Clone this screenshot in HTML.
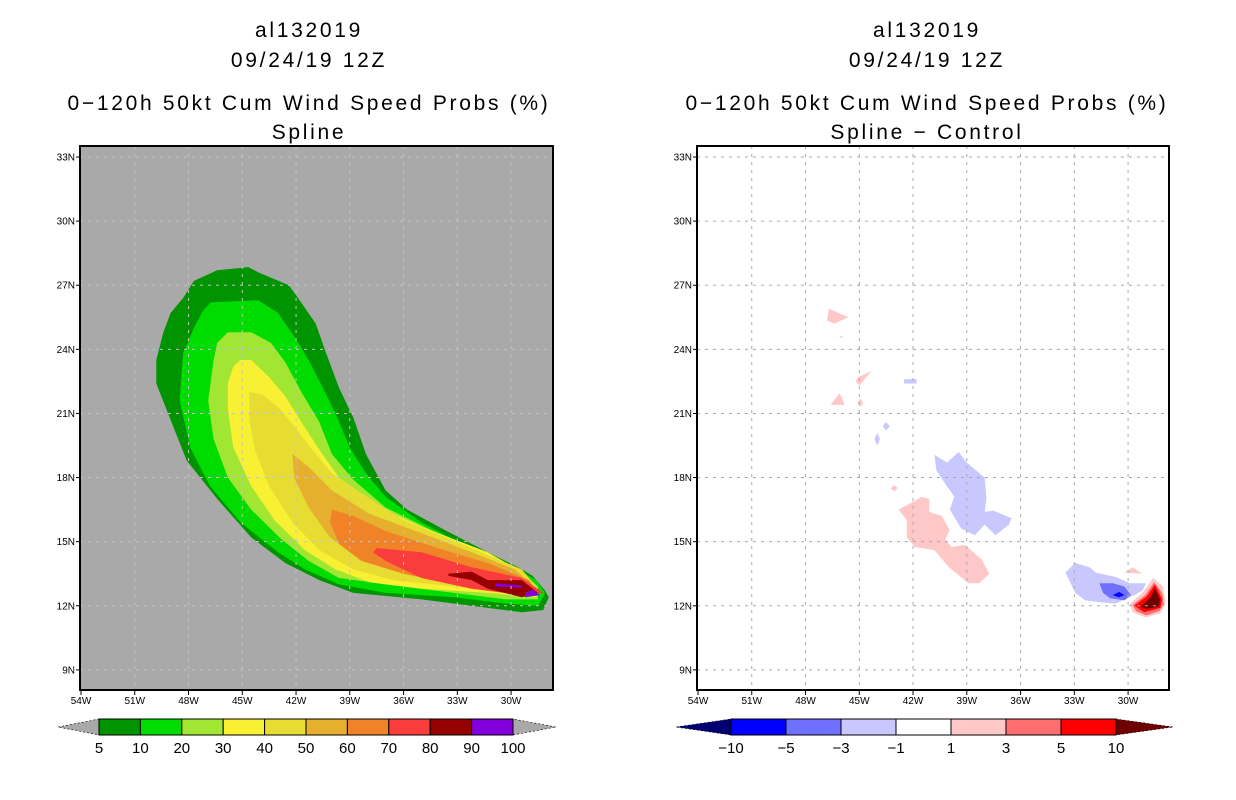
<!DOCTYPE html>
<html><head><meta charset="utf-8">
<style>
html,body{margin:0;padding:0;background:#fff;}
svg{display:block;font-family:"Liberation Sans",sans-serif;}
.t{font-size:21px;text-anchor:middle;fill:#000;letter-spacing:2.7px;}
.tk{font-size:10px;fill:#000;}
.cb{font-size:15px;text-anchor:middle;fill:#000;}
</style></head>
<body>
<svg id="fig" width="1236" height="800" viewBox="0 0 1236 800">
<rect width="1236" height="800" fill="#fff"/>
<g>
<text class="t" x="309" y="37">al132019</text>
<text class="t" x="309" y="67">09/24/19 12Z</text>
<text class="t" x="309" y="110">0−120h 50kt Cum Wind Speed Probs (%)</text>
<text class="t" x="309" y="139">Spline</text>
</g>
<g>
<text class="t" x="927" y="37">al132019</text>
<text class="t" x="927" y="67">09/24/19 12Z</text>
<text class="t" x="927" y="110">0−120h 50kt Cum Wind Speed Probs (%)</text>
<text class="t" x="927" y="139">Spline − Control</text>
</g>
<g id="left"></g>
<g id="right"></g>
<g id="lcb"></g>
<g id="rcb"></g>
</svg>
<script>
// axis ticks
const lonTicks=[54,51,48,45,42,39,36,33,30];
const latTicks=[33,30,27,24,21,18,15,12,9];
// probability contour levels and colors (left)
const probLevels=[5,10,20,30,40,50,60,70,80,90,100];
const probColors=["#009400","#00dc00","#a0e632","#f8f032","#e6dc32","#e6af2d","#f08228","#fa3c3c","#960000","#8200dc"];
// left polygons [lonW, latN]
const p5=[[44.66,27.85],[44.1,27.6],[42.4,27.0],[41.8,26.3],[40.9,25.2],[40.4,24.0],[39.6,22.2],[38.8,20.8],[38.1,19.1],[37.0,17.4],[35.8,16.5],[33.6,15.5],[31.3,14.5],[29.6,13.8],[28.8,13.4],[28.1,12.7],[27.9,12.4],[28.2,11.8],[29.4,11.7],[31.3,11.9],[35.0,12.3],[38.8,12.6],[40.7,13.2],[42.6,14.0],[44.5,15.2],[46.4,17.0],[48.1,18.8],[49.0,20.7],[49.8,22.4],[49.8,23.5],[49.4,24.8],[49.0,25.7],[48.3,26.4],[47.7,27.2],[46.4,27.7]];
const p10=[[46.75,26.2],[44.1,26.3],[43.0,25.7],[42.1,24.6],[41.3,23.5],[40.5,22.2],[39.8,21.0],[39.0,19.4],[38.1,18.2],[37.0,17.1],[35.0,15.9],[33.2,15.1],[30.7,14.1],[29.4,13.6],[28.6,13.2],[28.1,12.6],[28.5,12.0],[30.3,12.1],[33.2,12.4],[37.0,12.6],[39.6,13.0],[41.5,13.7],[43.0,14.5],[45.1,15.9],[46.8,17.6],[47.9,19.4],[48.5,21.6],[48.3,23.8],[47.7,25.0],[47.2,25.8]];
const p20=[[45.8,24.8],[44.5,24.8],[43.4,24.3],[42.6,23.4],[41.7,22.0],[40.7,20.6],[40.0,19.1],[38.8,17.9],[37.0,16.6],[34.1,15.4],[31.3,14.3],[29.4,13.6],[28.5,12.9],[28.5,12.3],[30.3,12.3],[33.2,12.6],[37.0,13.0],[39.6,13.3],[41.3,14.1],[42.8,15.1],[44.5,16.5],[45.8,18.0],[46.6,19.8],[46.9,21.6],[46.6,23.5],[46.4,24.3]];
const p30=[[45.1,23.5],[44.5,23.5],[43.5,22.7],[42.6,21.8],[41.7,20.6],[40.7,19.3],[39.6,18.0],[37.9,16.8],[35.0,15.7],[31.3,14.5],[29.2,13.5],[28.5,12.7],[28.6,12.4],[31.3,12.6],[35.0,12.8],[37.9,13.1],[39.8,13.7],[41.5,14.6],[43.2,16.0],[44.5,17.6],[45.5,19.4],[45.8,21.2],[45.8,22.4],[45.5,23.2]];
const p40=[[44.6,22.0],[43.9,21.9],[43.0,21.3],[42.1,20.4],[41.1,19.3],[40.0,18.2],[38.4,17.3],[36.0,16.0],[32.2,14.7],[29.4,13.7],[28.5,12.8],[29.4,12.6],[33.2,12.9],[36.6,13.2],[38.8,13.7],[40.7,14.6],[42.2,15.9],[43.5,17.6],[44.3,19.3],[44.6,20.7]];
const p50=[[42.2,19.1],[41.3,18.5],[40.0,17.4],[37.9,16.3],[35.0,15.4],[32.2,14.5],[29.8,13.7],[28.5,12.7],[29.8,12.6],[33.2,13.1],[36.0,13.5],[38.4,14.1],[40.1,15.2],[41.3,16.6],[42.1,18.0]];
const p60=[[40.0,16.5],[38.8,16.2],[37.0,15.5],[34.1,14.7],[31.3,14.0],[29.0,13.2],[28.5,12.6],[30.3,12.6],[33.2,13.0],[36.0,13.5],[38.3,14.1],[39.6,14.9],[40.1,15.9]];
const p70=[[37.5,14.7],[35.0,14.5],[32.2,13.8],[29.4,13.3],[28.2,12.6],[29.4,12.5],[32.2,12.8],[35.0,13.3],[37.0,14.1],[37.7,14.5]];
const p80=[[33.5,13.5],[32.2,13.6],[31.3,13.2],[29.4,13.2],[28.5,12.6],[29.4,12.4],[31.3,12.8],[32.2,13.2],[33.5,13.4]];
const p90a=[[29.2,12.6],[28.8,12.75],[28.4,12.5],[29.2,12.4]];
const p90b=[[30.9,13.05],[29.4,12.95],[29.4,12.85],[30.9,12.9]];
const leftPolys=[[p5,0],[p10,1],[p20,2],[p30,3],[p40,4],[p50,5],[p60,6],[p70,7],[p80,8],[p90a,9],[p90b,9]];
// difference levels and colors (right)
const diffLabels=["−10","−5","−3","−1","1","3","5","10"];
const diffColors=["#000070","#0000ff","#7070ff","#c8c8ff","#ffffff","#ffc8c8","#ff6e6e","#ff0000","#6e0000"];
const n1=[[46.7,25.9],[45.6,25.5],[46.4,25.2],[46.8,25.35]];
const n2=[[46.1,21.95],[45.8,21.4],[46.6,21.4]];
const n3=[[45.05,22.7],[44.3,23.0],[45.0,22.3],[45.2,22.5]];
const n4=[[44.95,21.7],[44.8,21.5],[44.95,21.3],[45.1,21.5]];
const n5=[[43.05,17.65],[42.85,17.5],[43.05,17.35],[43.25,17.5]];
const n6=[[46.0,24.65],[45.9,24.55],[46.1,24.55]];
const b1=[[42.5,22.6],[41.8,22.6],[41.8,22.4],[42.5,22.4]];
const b2=[[43.5,20.6],[43.3,20.4],[43.5,20.2],[43.7,20.4]];
const b3=[[44.0,20.1],[43.85,19.8],[44.0,19.5],[44.15,19.8]];
const pBig=[[42.8,16.5],[41.5,17.1],[41.1,17.0],[41.1,16.4],[40.4,16.2],[39.95,15.55],[40.2,15.1],[39.85,14.75],[39.1,14.85],[38.15,14.15],[37.75,13.5],[38.3,13.05],[38.9,13.05],[40.0,13.8],[40.8,14.6],[41.9,14.75],[42.35,15.2],[42.35,16.0]];
const bBig=[[40.8,19.06],[40.1,18.7],[39.45,19.2],[39.0,18.7],[38.0,18.0],[37.9,17.0],[38.0,16.4],[37.5,16.45],[36.5,16.1],[36.65,15.8],[37.4,15.3],[38.0,15.8],[38.55,15.3],[39.3,15.6],[39.95,16.5],[39.7,17.1],[40.2,17.7],[40.7,18.35]];
const bE1=[[33.5,13.55],[32.95,14.0],[32.15,13.8],[31.8,13.55],[30.7,13.35],[29.9,13.05],[29.0,13.05],[29.2,12.7],[29.9,12.4],[30.7,12.1],[31.4,12.15],[32.4,12.25],[32.95,12.6],[33.2,13.05]];
const bE2=[[31.6,13.05],[30.85,13.05],[30.2,12.9],[29.85,12.5],[30.2,12.25],[31.0,12.35],[31.4,12.6]];
const bE3=[[30.85,12.5],[30.5,12.65],[30.2,12.5],[30.5,12.4]];
const rS=[[30.2,13.55],[29.75,13.8],[29.2,13.5]];
const r1=[[29.9,12.1],[29.2,12.6],[28.6,13.3],[28.05,12.9],[27.9,12.1],[28.2,11.65],[29.0,11.45],[29.75,11.7]];
const r3=[[29.75,12.05],[29.05,12.5],[28.55,13.1],[28.1,12.6],[28.0,12.1],[28.25,11.75],[29.0,11.55],[29.55,11.75]];
const r5=[[29.65,12.0],[28.95,12.45],[28.5,13.0],[28.1,12.3],[28.2,11.9],[29.1,11.7]];
const r10=[[29.3,11.95],[28.8,12.35],[28.5,12.8],[28.2,12.25],[28.3,11.95],[29.0,11.85]];
const rightPolys=[[n1,5],[n2,5],[n3,5],[n4,5],[n5,5],[n6,5],[b1,3],[b2,3],[b3,3],[pBig,5],[bBig,3],[bE1,3],[bE2,2],[bE3,1],[rS,5],[r1,5],[r3,6],[r5,7],[r10,8]];

const NS="http://www.w3.org/2000/svg";
function mk(tag,attrs,parent){const e=document.createElementNS(NS,tag);for(const k in attrs)e.setAttribute(k,attrs[k]);parent.appendChild(e);return e;}
const top_=146,bot=690;
function yScale(lat){return 157+(33-lat)*21.37;}
function panel(g,x0,x1,bg,gridColor,polys,colors,prefix){
  const xScale=lon=>x0+1+(54-lon)*17.92;
  const clipId=prefix+"clip";
  const cp=mk("clipPath",{id:clipId},g);
  mk("rect",{x:x0,y:top_,width:x1-x0,height:bot-top_},cp);
  const bgr=mk("rect",{x:x0,y:top_,width:x1-x0,height:bot-top_,fill:bg},g);
  
  
  const pg=mk("g",{"clip-path":"url(#"+clipId+")"},g);
  polys.forEach(([pts,ci],i)=>{
    const d=pts.map(p=>xScale(p[0]).toFixed(1)+","+yScale(p[1]).toFixed(1)).join(" ");
    const el=mk("polygon",{points:d,fill:colors[ci]},pg);
    
    
  });
  lonTicks.forEach(l=>{
    const x=xScale(l);
    if(l<54){const gl=mk("line",{x1:x,x2:x,y1:top_,y2:bot,stroke:gridColor,"stroke-width":1,"stroke-dasharray":"3,5"},pg);
      
      }
    mk("line",{x1:x,x2:x,y1:bot,y2:bot+5,stroke:"#000"},g);
    const t=mk("text",{x:x,y:bot+14,class:"tk","text-anchor":"middle"},g);t.textContent=l+"W";
    
    
  });
  latTicks.forEach(l=>{
    const y=yScale(l);
    const gl=mk("line",{x1:x0,x2:x1,y1:y,y2:y,stroke:gridColor,"stroke-width":1,"stroke-dasharray":"3,5"},pg);
    
    
    mk("line",{x1:x0-4,x2:x0,y1:y,y2:y,stroke:"#000"},g);
    const t=mk("text",{x:x0-5,y:y+3.5,class:"tk","text-anchor":"end"},g);t.textContent=l+"N";
    
    
  });
  const fr=mk("rect",{x:x0,y:top_,width:x1-x0,height:bot-top_,fill:"none",stroke:"#000","stroke-width":2},g);
  
  
}
panel(document.getElementById("left"),80,553,"#a9a9a9","#c4c4c4",leftPolys,probColors,"left");
panel(document.getElementById("right"),697,1169,"#ffffff","#a8a8a8",rightPolys,diffColors,"right");

function colorbar(g,xL,xR,b0,b1,cols,labels,leftTri,rightTri,prefix){
  const y0=719,y1=735,ym=727,n=cols.length,w=(b1-b0)/n;
  const lt=mk("polygon",{points:`${xL},${ym} ${b0},${y0} ${b0},${y1}`,fill:leftTri,stroke:"#000","stroke-width":0.6,"stroke-dasharray":"2,2"},g);
  
  
  const rt=mk("polygon",{points:`${xR},${ym} ${b1},${y0} ${b1},${y1}`,fill:rightTri,stroke:"#000","stroke-width":0.6,"stroke-dasharray":"2,2"},g);
  
  
  cols.forEach((c,i)=>{
    const r=mk("rect",{x:b0+i*w,y:y0,width:w,height:y1-y0,fill:c,stroke:"#000","stroke-width":1},g);
    
    
  });
  labels.forEach((l,i)=>{
    const t=mk("text",{x:b0+i*w,y:753,class:"cb"},g);t.textContent=l;
    
    
  });
}
colorbar(document.getElementById("lcb"),58,556,99,513,probColors,probLevels.map(String),"#a9a9a9","#a9a9a9","left-colorbar");
colorbar(document.getElementById("rcb"),676,1173,731,1116,diffColors.slice(1,8),diffLabels,diffColors[0],diffColors[8],"right-colorbar");
</script>
</body></html>
